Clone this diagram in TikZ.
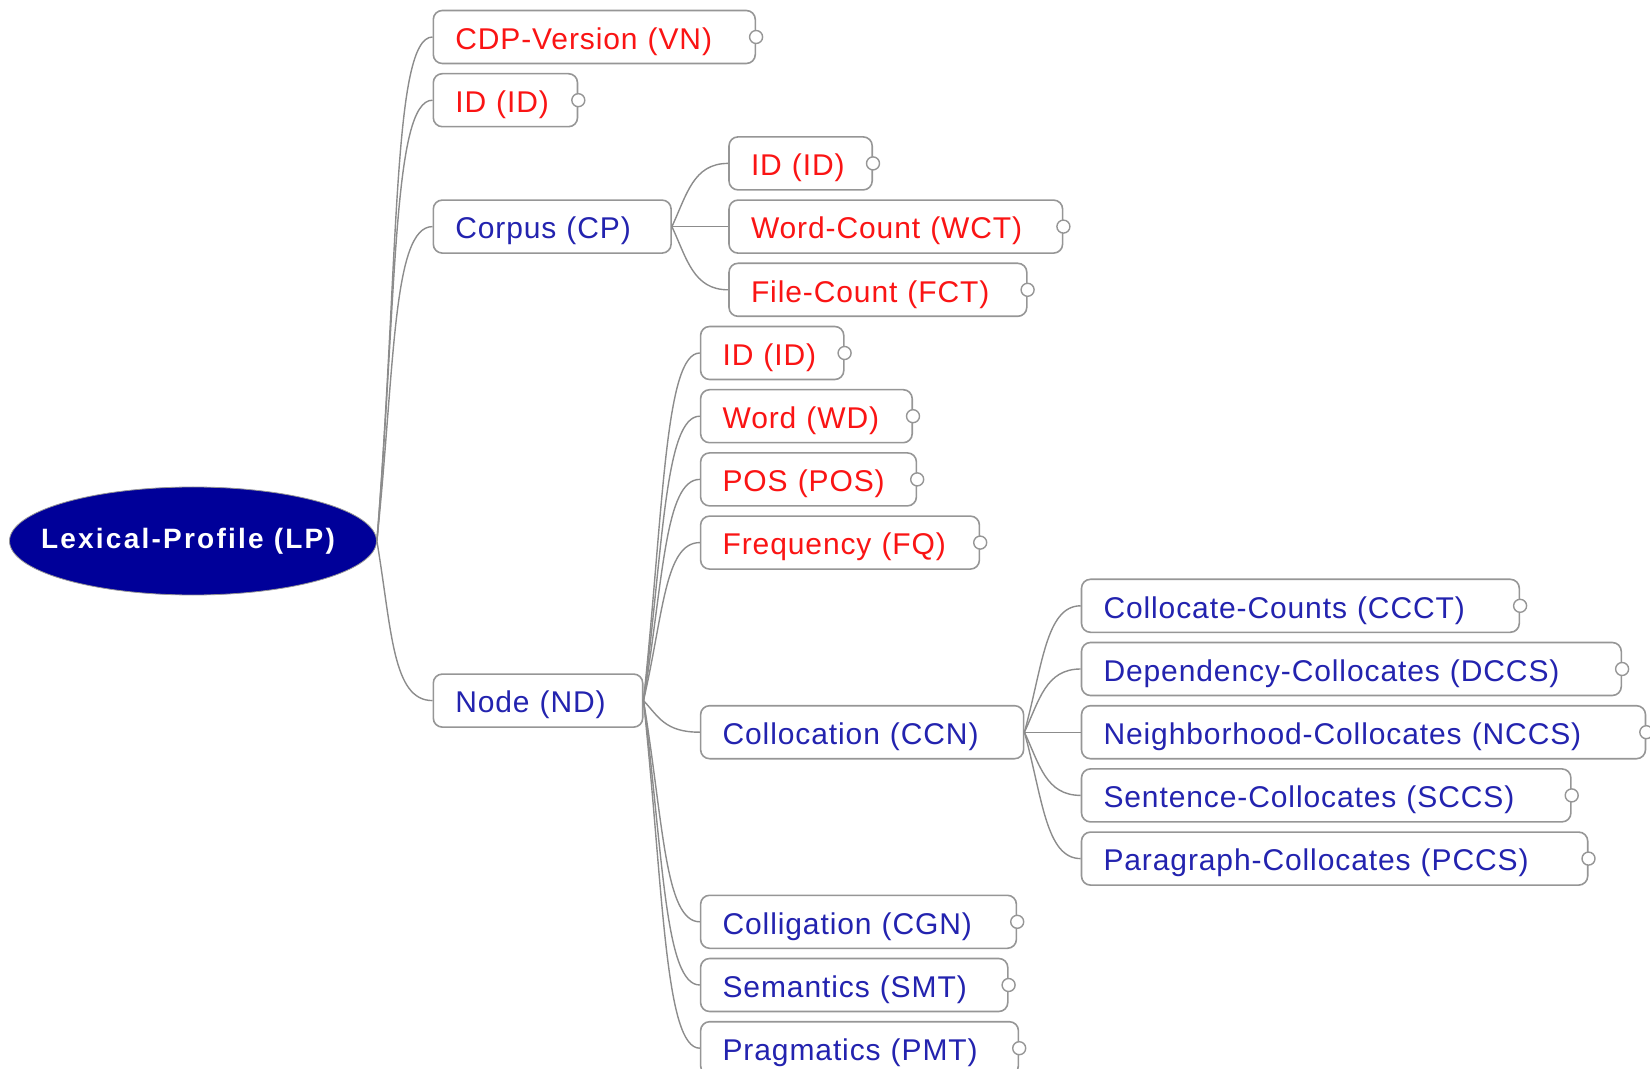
\documentclass[tikz,border=0pt]{standalone}
\usepackage{fontspec}
\setmainfont{Liberation Sans}
\usetikzlibrary{shapes.geometric}

\definecolor{lpblue}{RGB}{0,0,153}
\definecolor{leafred}{RGB}{250,20,20}
\definecolor{branchblue}{RGB}{35,35,175}
\definecolor{boxgray}{RGB}{150,150,150}
\definecolor{linkgray}{RGB}{140,140,140}

\tikzset{
  box/.style={draw=boxgray, line width=0.8pt, rounded corners=4.5pt, fill=white,
    anchor=west, minimum height=26.5pt, inner xsep=11pt, inner ysep=0pt, align=left,
    text height=13.5pt, text depth=1.2pt,
    font=\fontsize{15}{17}\selectfont\addfontfeatures{LetterSpace=3}},
  leaf/.style={box, text=leafred},
  branch/.style={box, text=branchblue},
  link/.style={draw=linkgray, line width=0.7pt},
  knob/.style={draw=boxgray, fill=white, line width=0.7pt}
}

\begin{document}
\begin{tikzpicture}[x=0.5pt,y=-0.5pt]
    \useasboundingbox (0,0) rectangle (1650,1069);
    % root
    \node[ellipse, draw=boxgray, fill=lpblue, text=white, minimum width=183.5pt, minimum height=54pt, inner sep=0pt,
      font=\fontsize{14}{16}\selectfont\bfseries\addfontfeatures{LetterSpace=8}] (lp) at (193,541) {\makebox[0pt]{\raisebox{-1.5pt}{Lexical-Profile (LP)}\kern5pt}};

    % first level
    \node[leaf, text width=139pt] (vn) at (432.5,37) {CDP-Version (VN)};
    \node[leaf, text width=50.1pt] (id) at (432.5,100.2) {ID (ID)};
    \node[branch, text width=96.9pt] (cp) at (432.5,226.6) {Corpus (CP)};
    \node[branch, text width=82.7pt] (nd) at (432.5,700.6) {Node (ND)};

    % corpus
    \node[leaf, text width=49.6pt] (cpid) at (728.2,163.4) {ID (ID)};
    \node[leaf, text width=144.8pt] (wct) at (728.2,226.6) {Word-Count (WCT)};
    \node[leaf, text width=126.9pt] (fct) at (728.2,289.8) {File-Count (FCT)};

    % node
    \node[leaf, text width=49.6pt] (ndid) at (699.8,353) {ID (ID)};
    \node[leaf, text width=83.8pt] (wd) at (699.8,416.2) {Word (WD)};
    \node[leaf, text width=85.9pt] (pos) at (699.8,479.4) {POS (POS)};
    \node[leaf, text width=117.4pt] (fq) at (699.8,542.6) {Frequency (FQ)};
    \node[branch, text width=139.5pt] (ccn) at (699.8,732.2) {Collocation (CCN)};
    \node[branch, text width=135.9pt] (cgn) at (699.8,921.8) {Colligation (CGN)};
    \node[branch, text width=131.6pt] (smt) at (699.8,985) {Semantics (SMT)};
    \node[branch, text width=136.9pt] (pmt) at (699.8,1048.2) {Pragmatics (PMT)};

    % collocation
    \node[branch, text width=196.9pt] (ccct) at (1080.7,605.8) {Collocate-Counts (CCCT)};
    \node[branch, text width=247.9pt] (dccs) at (1080.7,669) {Dependency-Collocates (DCCS)};
    \node[branch, text width=260pt] (nccs) at (1080.7,732.2) {Neighborhood-Collocates (NCCS)};
    \node[branch, text width=222.7pt] (sccs) at (1080.7,795.4) {Sentence-Collocates (SCCS)};
    \node[branch, text width=231.1pt] (pccs) at (1080.7,858.6) {Paragraph-Collocates (PCCS)};

    % links
    \draw[link] (lp.east) .. controls +(22,-280) and +(-40,0) .. (vn.west);
    \draw[link] (lp.east) .. controls +(20,-245) and +(-40,0) .. (id.west);
    \draw[link] (lp.east) .. controls +(18,-175) and +(-40,0) .. (cp.west);
    \draw[link] (lp.east) .. controls +(15,90) and +(-40,0) .. (nd.west);

    \draw[link] (cp.east) .. controls +(15,-32) and +(-35,0) .. (cpid.west);
    \draw[link] (cp.east) -- (wct.west);
    \draw[link] (cp.east) .. controls +(15,32) and +(-35,0) .. (fct.west);

    \draw[link] (nd.east) .. controls +(20,-190) and +(-35,0) .. (ndid.west);
    \draw[link] (nd.east) .. controls +(20,-156) and +(-35,0) .. (wd.west);
    \draw[link] (nd.east) .. controls +(20,-121) and +(-35,0) .. (pos.west);
    \draw[link] (nd.east) .. controls +(20,-87) and +(-35,0) .. (fq.west);
    \draw[link] (nd.east) .. controls +(15,16) and +(-35,0) .. (ccn.west);
    \draw[link] (nd.east) .. controls +(20,122) and +(-35,0) .. (cgn.west);
    \draw[link] (nd.east) .. controls +(20,157) and +(-35,0) .. (smt.west);
    \draw[link] (nd.east) .. controls +(20,191) and +(-35,0) .. (pmt.west);

    \draw[link] (ccn.east) .. controls +(18,-65) and +(-35,0) .. (ccct.west);
    \draw[link] (ccn.east) .. controls +(15,-32) and +(-35,0) .. (dccs.west);
    \draw[link] (ccn.east) -- (nccs.west);
    \draw[link] (ccn.east) .. controls +(15,32) and +(-35,0) .. (sccs.west);
    \draw[link] (ccn.east) .. controls +(18,65) and +(-35,0) .. (pccs.west);

    % knobs
    \filldraw[knob] (vn.east) circle[radius=3.25pt];
    \filldraw[knob] (id.east) circle[radius=3.25pt];
    \filldraw[knob] (cpid.east) circle[radius=3.25pt];
    \filldraw[knob] (wct.east) circle[radius=3.25pt];
    \filldraw[knob] (fct.east) circle[radius=3.25pt];
    \filldraw[knob] (ndid.east) circle[radius=3.25pt];
    \filldraw[knob] (wd.east) circle[radius=3.25pt];
    \filldraw[knob] (pos.east) circle[radius=3.25pt];
    \filldraw[knob] (fq.east) circle[radius=3.25pt];
    \filldraw[knob] (cgn.east) circle[radius=3.25pt];
    \filldraw[knob] (smt.east) circle[radius=3.25pt];
    \filldraw[knob] (pmt.east) circle[radius=3.25pt];
    \filldraw[knob] (ccct.east) circle[radius=3.25pt];
    \filldraw[knob] (dccs.east) circle[radius=3.25pt];
    \filldraw[knob] (nccs.east) circle[radius=3.25pt];
    \filldraw[knob] (sccs.east) circle[radius=3.25pt];
    \filldraw[knob] (pccs.east) circle[radius=3.25pt];
\end{tikzpicture}
\end{document}
